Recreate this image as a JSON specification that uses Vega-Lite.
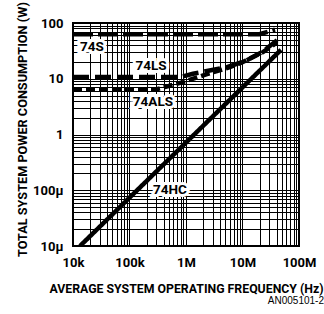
{
  "$schema": "https://vega.github.io/schema/vega-lite/v6.json",
  "autosize": {"type": "none"},
  "width": 226,
  "height": 223,
  "padding": {"left": 73, "top": 23, "right": 25, "bottom": 68},
  "background": "white",
  "config": {
    "view": {"stroke": "black", "strokeWidth": 2},
    "font": "Roboto, sans-serif",
    "axis": {
      "grid": true, "gridColor": "black", "gridOpacity": 1, "gridWidth": 1,
      "domain": false, "ticks": false, "labelOverlap": false, "labelFlush": false,
      "labelFont": "Roboto, sans-serif",
      "labelFontSize": 13, "labelFontWeight": "bold", "labelColor": "black",
      "titleFont": "Roboto, sans-serif",
      "titleFontSize": 12.5, "titleFontWeight": "bold", "titleColor": "black"
    }
  },
  "title": {
    "text": "AN005101-2", "orient": "bottom", "anchor": "end", "frame": "group",
    "font": "Liberation Sans, sans-serif", "fontSize": 10, "fontWeight": "normal",
    "color": "black", "offset": 2, "dx": 25
  },
  "datasets": {
    "curves": [
      {"series": "74S", "f": 10000, "p": 62.8},
      {"series": "74S", "f": 20000000, "p": 62.8},
      {"series": "74S", "f": 37600000, "p": 76},
      {"series": "74LS", "f": 10000, "p": 10.7},
      {"series": "74LS", "f": 784000, "p": 10.7},
      {"series": "74LS", "f": 1330000, "p": 12.3},
      {"series": "74LS", "f": 5300000, "p": 16.1},
      {"series": "74LS", "f": 12000000, "p": 21.5},
      {"series": "74LS", "f": 22000000, "p": 30},
      {"series": "74LS", "f": 41000000, "p": 49},
      {"series": "74ALS", "f": 10000, "p": 6.5},
      {"series": "74ALS", "f": 307000, "p": 6.5},
      {"series": "74ALS", "f": 885000, "p": 8.7},
      {"series": "74ALS", "f": 2350000, "p": 12.1},
      {"series": "74ALS", "f": 5300000, "p": 15.5},
      {"series": "74ALS", "f": 10000000, "p": 19.8},
      {"series": "74ALS", "f": 23000000, "p": 30},
      {"series": "74ALS", "f": 41000000, "p": 45},
      {"series": "74HC", "f": 13300, "p": 0.01},
      {"series": "74HC", "f": 48000000, "p": 33}
    ],
    "labels": [
      {"label": "74S", "f": 21700, "p": 37},
      {"label": "74LS", "f": 240000, "p": 17},
      {"label": "74ALS", "f": 260000, "p": 3.9},
      {"label": "74HC", "f": 521000, "p": 0.1}
    ]
  },
  "encoding": {
    "x": {
      "field": "f", "type": "quantitative",
      "scale": {"type": "log", "domain": [10000, 100000000], "nice": false},
      "axis": {
        "title": "AVERAGE SYSTEM OPERATING FREQUENCY (Hz)",
        "titleFontSize": 12.3,
        "labelPadding": 10, "titlePadding": 13,
        "values": [10000,20000,30000,40000,50000,60000,70000,80000,90000,
                   100000,200000,300000,400000,500000,600000,700000,800000,900000,
                   1000000,2000000,3000000,4000000,5000000,6000000,7000000,8000000,9000000,
                   10000000,20000000,30000000,40000000,50000000,60000000,70000000,80000000,90000000,
                   100000000],
        "labelExpr": "datum.value==1e4?'10k':datum.value==1e5?'100k':datum.value==1e6?'1M':datum.value==1e7?'10M':datum.value==1e8?'100M':''"
      }
    },
    "y": {
      "field": "p", "type": "quantitative",
      "scale": {"type": "log", "domain": [0.01, 100], "nice": false},
      "axis": {
        "title": "TOTAL SYSTEM POWER CONSUMPTION (W)",
        "titleFontSize": 12.7,
        "labelPadding": 10,
        "titleX": -51, "titleY": 106, "titleAngle": -90,
        "titleAlign": "center", "titleBaseline": "middle",
        "values": [0.01,0.02,0.03,0.04,0.05,0.06,0.07,0.08,0.09,
                   0.1,0.2,0.3,0.4,0.5,0.6,0.7,0.8,0.9,
                   1,2,3,4,5,6,7,8,9,
                   10,20,30,40,50,60,70,80,90,100],
        "labelExpr": "datum.value==100?'100':datum.value==10?'10':datum.value==1?'1':datum.value==0.1?'100µ':datum.value==0.01?'10µ':''"
      }
    }
  },
  "layer": [
    {
      "data": {"name": "curves"},
      "mark": {"type": "line", "color": "black", "strokeWidth": 4.5, "clip": true},
      "encoding": {
        "detail": {"field": "series"},
        "strokeDash": {
          "field": "series", "type": "nominal", "legend": null,
          "scale": {"domain": ["74S", "74LS", "74ALS", "74HC"],
                    "range": [[20, 5], [16, 6], [9, 4], [1, 0]]}
        }
      }
    },
    {
      "data": {"name": "labels"},
      "mark": {"type": "text", "fontSize": 13.5, "fontWeight": "bold",
               "font": "Roboto, sans-serif",
               "stroke": "white", "strokeWidth": 6, "fill": "white"},
      "encoding": {"text": {"field": "label"}}
    },
    {
      "data": {"name": "labels"},
      "mark": {"type": "text", "fontSize": 13.5, "fontWeight": "bold",
               "font": "Roboto, sans-serif",
               "color": "black"},
      "encoding": {"text": {"field": "label"}}
    }
  ]
}
